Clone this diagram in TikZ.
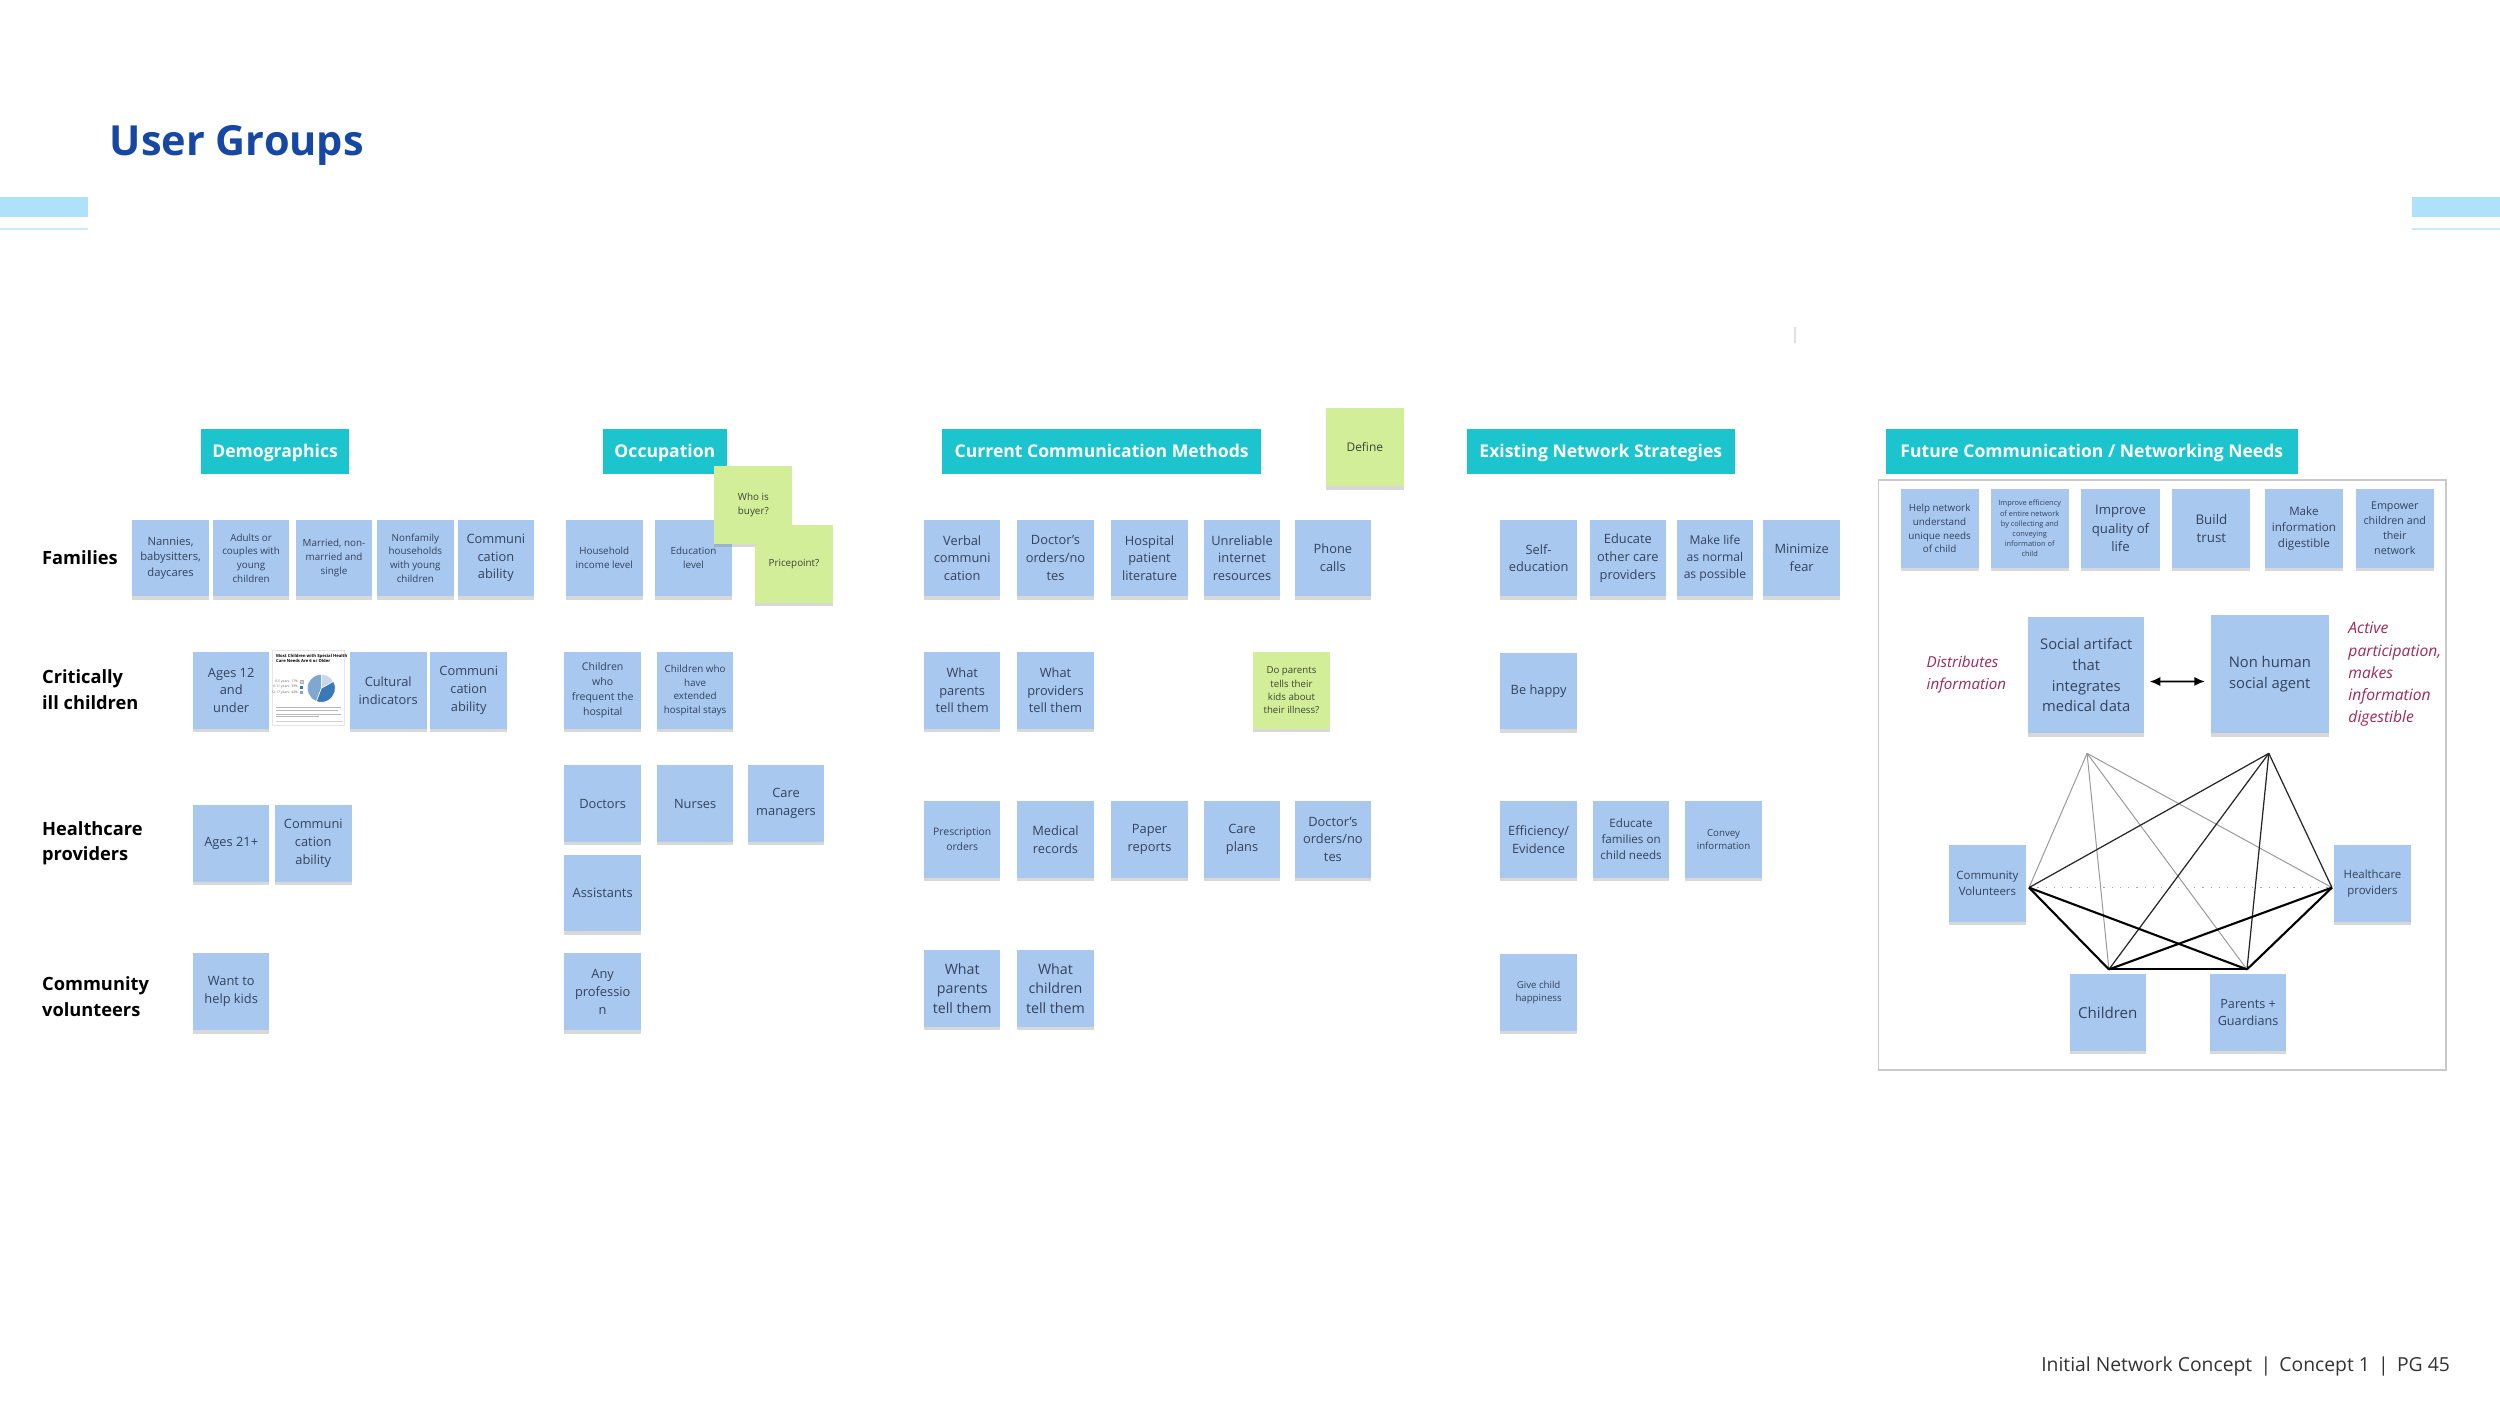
\documentclass[tikz,border=0pt]{standalone}
\usepackage{fontspec}
\setmainfont{Open Sans}
\usetikzlibrary{shadows,arrows.meta}
\definecolor{stickyblue}{HTML}{A8C8F0}
\definecolor{stickytext}{HTML}{34425C}
\definecolor{stickygreen}{HTML}{D3EE98}
\definecolor{greentext}{HTML}{3A4636}
\definecolor{teal1}{HTML}{1CC4CE}
\definecolor{titleblue}{HTML}{1547A3}
\definecolor{barblue}{HTML}{ADE2FA}
\definecolor{lineblue}{HTML}{C9EAF8}
\definecolor{framegray}{HTML}{CACACA}
\definecolor{accent}{HTML}{9E2A57}
\definecolor{pieL}{HTML}{C8D8EA}
\definecolor{pieD}{HTML}{3B78B7}
\definecolor{pieM}{HTML}{80A7D0}
\def\uu{0.015944cm}
\newcommand\fsz[2]{\fontsize{#1pt}{#2pt}\selectfont}
\tikzset{
  sticky/.style={fill=stickyblue, text=stickytext, align=center, inner sep=0pt,
    minimum width=48*\uu, minimum height=48*\uu,
    drop shadow={shadow xshift=0pt, shadow yshift=-1pt, opacity=0.3}},
  greensticky/.style={sticky, fill=stickygreen, text=greentext},
  bigsticky/.style={minimum width=49*\uu, minimum height=49*\uu},
  szL/.style={font=\fsz{3.65}{5.05}},
  szM/.style={font=\fsz{3.2}{4.45}},
  szS/.style={font=\fsz{2.8}{3.9}},
  header/.style={fill=teal1, text=white, font=\bfseries\fsz{5.0}{6}, inner sep=0pt,
    minimum height=28*\uu, text height=3.8pt, text depth=0pt},
  rowlabel/.style={anchor=west, align=left, inner sep=0pt, font=\bfseries\fsz{5.2}{7.2}, text=black},
  note/.style={anchor=west, align=left, inner sep=0pt, text=accent},
  netgray/.style={draw=black!40, line width=0.28pt},
  netblack/.style={draw=black!85, line width=0.35pt},
  netthick/.style={draw=black, line width=0.6pt},
  netdot/.style={draw=black!35, dotted, line width=0.35pt},
}
\begin{document}
\begin{tikzpicture}[x=0.015944cm, y=-0.015944cm]
\useasboundingbox (0,0) rectangle (1568,882);
\fill[white] (0,0) rectangle (1568,882);

% title and bars
\node[anchor=base west, inner sep=0pt, font=\bfseries\fsz{11.8}{14}, text=titleblue] (title) at (68.5,97.4) {User Groups};
\fill[barblue] (0,123.6) rectangle (55,136);
\fill[lineblue] (0,143) rectangle (55,144.3);
\fill[barblue] (1513,123.6) rectangle (1568,136);
\fill[lineblue] (1513,143) rectangle (1568,144.3);
\draw[black!12, line width=0.3pt] (1125.8,205) -- (1125.8,215);

% headers
\node[header, minimum width=93*\uu] (hdemo) at (172.5,283) {Demographics};
\node[header, minimum width=78*\uu] (hocc) at (417,283) {Occupation};
\node[header, minimum width=200*\uu] (hcur) at (691,283) {Current Communication Methods};
\node[header, minimum width=168*\uu] (hexi) at (1004,283) {Existing Network Strategies};
\node[header, minimum width=258*\uu] (hfut) at (1312,283) {Future Communication / Networking Needs};

% row labels
\node[rowlabel] (lfam) at (26,349.8) {Families};
\node[rowlabel] (lcic) at (26,432.5) {Critically\\ill children};
\node[rowlabel] (lhp) at (26,529) {Healthcare\\providers};
\node[rowlabel] (lcv) at (26,625) {Community\\volunteers};

% Demographics
\node[sticky,szM] (d1) at (107,350) {Nannies,\\babysitters,\\daycares};
\node[sticky,szS] (d2) at (157.5,350) {Adults or\\couples with\\young\\children};
\node[sticky,szS] (d3) at (209.5,350) {Married, non-\\married and\\single};
\node[sticky,szS] (d4) at (260.5,350) {Nonfamily\\households\\with young\\children};
\node[sticky,szL] (d5) at (311,350) {Communi\\cation\\ability};
\node[sticky,szL] (d6) at (145,433) {Ages 12\\and\\under};
\node[sticky,szL] (d7) at (243.5,433) {Cultural\\indicators};
\node[sticky,szL] (d8) at (294,433) {Communi\\cation\\ability};
\node[sticky,szL] (d9) at (145,529) {Ages 21+};
\node[sticky,szL] (d10) at (196.5,529) {Communi\\cation\\ability};
\node[sticky,szL] (d11) at (145,622) {Want to\\help kids};

% chart image
\node[fill=white, draw=black!10, line width=0.2pt, minimum width=45*\uu, minimum height=47*\uu, inner sep=0pt] (chart) at (193.5,431.5) {};
\node[anchor=north west, inner sep=0pt, align=left, font=\bfseries\fsz{1.2}{1.55}] (ctitle) at (172.8,409.8) {Most Children with Special Health\\Care Needs Are 6 or Older};
\node[anchor=east, inner sep=0pt, font=\fsz{0.95}{1.2}, text=black!60] (lg1) at (187.3,427.5) {0-5 years: 17\%};
\node[anchor=east, inner sep=0pt, font=\fsz{0.95}{1.2}, text=black!60] (lg2) at (187.3,431) {6-11 years: 39\%};
\node[anchor=east, inner sep=0pt, font=\fsz{0.95}{1.2}, text=black!60] (lg3) at (187.3,434.5) {12-17 years: 44\%};
\filldraw[fill=pieL, draw=black!30, line width=0.1pt] (188,426.6) rectangle (190,428.4);
\fill[pieD] (188,430.1) rectangle (190,431.9);
\fill[pieM] (188,433.6) rectangle (190,435.4);
\coordinate (pc) at (201.5,431.7);
\fill[pieL, draw=white, line width=0.15pt] (pc) -- ++(90:0.14cm) arc[start angle=90, end angle=29, radius=0.14cm] -- cycle;
\fill[pieD, draw=white, line width=0.15pt] (pc) -- ++(29:0.14cm) arc[start angle=29, end angle=-111, radius=0.14cm] -- cycle;
\fill[pieM, draw=white, line width=0.15pt] (pc) -- ++(-111:0.14cm) arc[start angle=-111, end angle=-270, radius=0.14cm] -- cycle;
\foreach \yy/\xe in {444/214, 445.6/212, 448/214, 449.6/200} {\draw[black!28, line width=0.25pt] (173,\yy) -- (\xe,\yy);}
\draw[black!18, line width=0.3pt] (173,452.5) -- (215,452.5);

% Occupation
\node[sticky,szS] (o1) at (379,350) {Household\\income level};
\node[sticky,szS] (o2) at (435,350) {Education\\level};
\node[greensticky,szS,bigsticky] (o3) at (472.5,316.5) {Who is\\buyer?};
\node[greensticky,szS,bigsticky] (o4) at (498,353.5) {Pricepoint?};
\node[sticky,font=\fsz{3.0}{4.2}] (o5) at (378,433) {Children\\who\\frequent the\\hospital};
\node[sticky,szS] (o6) at (436,433) {Children who\\have\\extended\\hospital stays};
\node[sticky,szL] (o7) at (378,504) {Doctors};
\node[sticky,szL] (o8) at (436,504) {Nurses};
\node[sticky,szL] (o9) at (493,504) {Care\\managers};
\node[sticky,szL] (o10) at (378,560) {Assistants};
\node[sticky,szL] (o11) at (378,622) {Any\\professio\\n};

% Current communication methods
\node[greensticky,font=\fsz{3.4}{4.7},bigsticky] (cdef) at (856,280.5) {Define};
\node[sticky,szL] (c1) at (603.5,350) {Verbal\\communi\\cation};
\node[sticky,szL] (c2) at (662,350) {Doctor's\\orders/no\\tes};
\node[sticky,szL] (c3) at (721,350) {Hospital\\patient\\literature};
\node[sticky,szL] (c4) at (779,350) {Unreliable\\internet\\resources};
\node[sticky,szL] (c5) at (836,350) {Phone\\calls};
\node[sticky,szL] (c6) at (603.5,433) {What\\parents\\tell them};
\node[sticky,szL] (c7) at (662,433) {What\\providers\\tell them};
\node[greensticky,font=\fsz{2.75}{3.8}] (c8) at (810,433) {Do parents\\tells their\\kids about\\their illness?};
\node[sticky,font=\fsz{2.95}{4.15}] (c9) at (603.5,526.5) {Prescription\\orders};
\node[sticky,szL] (c10) at (662,526.5) {Medical\\records};
\node[sticky,szL] (c11) at (721,526.5) {Paper\\reports};
\node[sticky,szL] (c12) at (779,526.5) {Care\\plans};
\node[sticky,szL] (c13) at (836,526.5) {Doctor's\\orders/no\\tes};
\node[sticky,font=\fsz{4.05}{5.65}] (c14) at (603.5,620) {What\\parents\\tell them};
\node[sticky,font=\fsz{4.05}{5.65}] (c15) at (662,620) {What\\children\\tell them};

% Existing network strategies
\node[sticky,szL] (e1) at (965,350) {Self-\\education};
\node[sticky,szL] (e2) at (1021,350) {Educate\\other care\\providers};
\node[sticky,font=\fsz{3.45}{4.85}] (e3) at (1075.6,350) {Make life\\as normal\\as possible};
\node[sticky,szL] (e4) at (1130,350) {Minimize\\fear};
\node[sticky,szL] (e5) at (965,433.5) {Be happy};
\node[sticky,szL] (e6) at (965,526.5) {Efficiency/\\Evidence};
\node[sticky,font=\fsz{3.3}{4.6}] (e7) at (1023,526.5) {Educate\\families on\\child needs};
\node[sticky,font=\fsz{2.75}{3.85}] (e8) at (1081,526.5) {Convey\\information};
\node[sticky,font=\fsz{2.75}{3.85}] (e9) at (965,622.5) {Give child\\happiness};

% Future communication frame
\draw[framegray, line width=0.4pt] (1178,301) rectangle (1534,671);
\node[sticky,bigsticky,font=\fsz{2.8}{3.9}] (f1) at (1216.5,331.5) {Help network\\understand\\unique needs\\of child};
\node[sticky,bigsticky,font=\fsz{2.1}{2.9}] (f2) at (1273,331.5) {Improve efficiency\\of entire network\\by collecting and\\conveying\\information of\\child};
\node[sticky,bigsticky,font=\fsz{3.75}{5.2}] (f3) at (1330,331.5) {Improve\\quality of\\life};
\node[sticky,bigsticky,font=\fsz{3.8}{5.3}] (f4) at (1387,331.5) {Build\\trust};
\node[sticky,bigsticky,font=\fsz{3.3}{4.6}] (f5) at (1445,331.5) {Make\\information\\digestible};
\node[sticky,bigsticky,font=\fsz{3.05}{4.25}] (f6) at (1502,331.5) {Empower\\children and\\their\\network};

\node[sticky,minimum width=73*\uu,minimum height=73*\uu,font=\fsz{4.2}{5.85}] (sa) at (1308.5,423.5) {Social artifact\\that\\integrates\\medical data};
\node[sticky,minimum width=74*\uu,minimum height=74*\uu,font=\fsz{4.2}{5.85}] (nh) at (1423.6,423) {Non human\\social agent};
\draw[{Latex[length=3pt,width=2.6pt]}-{Latex[length=3pt,width=2.6pt]}, line width=0.45pt, shorten <=1.3pt, shorten >=1.5pt]
  ([yshift=-1.8pt]sa.east) -- ([yshift=-2pt]nh.west);
\node[note, font=\itshape\fsz{4.3}{6.15}] (ndist) at (1208,423) {Distributes\\information};
\node[note, font=\itshape\fsz{4.45}{6.33}] (nact) at (1472.5,423) {Active\\participation,\\makes\\information\\digestible};

\node[sticky,font=\fsz{3.25}{4.5}] (cv) at (1246.5,554) {Community\\Volunteers};
\node[sticky,font=\fsz{3.25}{4.5}] (hp) at (1488,554) {Healthcare\\providers};
\node[sticky,font=\fsz{4.3}{5.5}] (ch) at (1322,635) {Children};
\node[sticky,font=\fsz{3.6}{5.0}] (pg) at (1410,635) {Parents +\\Guardians};

\coordinate (nA) at (1309,472.5);
\coordinate (nB) at (1423,472.5);
\coordinate (nC) at (1272.6,556.7);
\coordinate (nD) at (1462.6,556.7);
\coordinate (nE) at (1322.7,608);
\coordinate (nF) at (1409.3,608);
\draw[netdot] (nC) -- (nD);
\draw[netgray] (nA) -- (nC);
\draw[netgray] (nA) -- (nE);
\draw[netgray] (nA) -- (nF);
\draw[netgray] (nA) -- (nD);
\draw[netblack] (nB) -- (nC);
\draw[netblack] (nB) -- (nE);
\draw[netblack] (nB) -- (nF);
\draw[netblack] (nB) -- (nD);
\draw[netthick] (nC) -- (nE);
\draw[netthick] (nC) -- (nF);
\draw[netthick] (nD) -- (nE);
\draw[netthick] (nD) -- (nF);
\draw[netthick] (nE) -- (nF);

% footer
\node[anchor=east, inner sep=0pt, font=\fsz{5.5}{7}, text=black!80] (footer) at (1537,857) {Initial Network Concept \,|\, Concept 1 \,|\, PG 45};
\end{tikzpicture}
\end{document}
